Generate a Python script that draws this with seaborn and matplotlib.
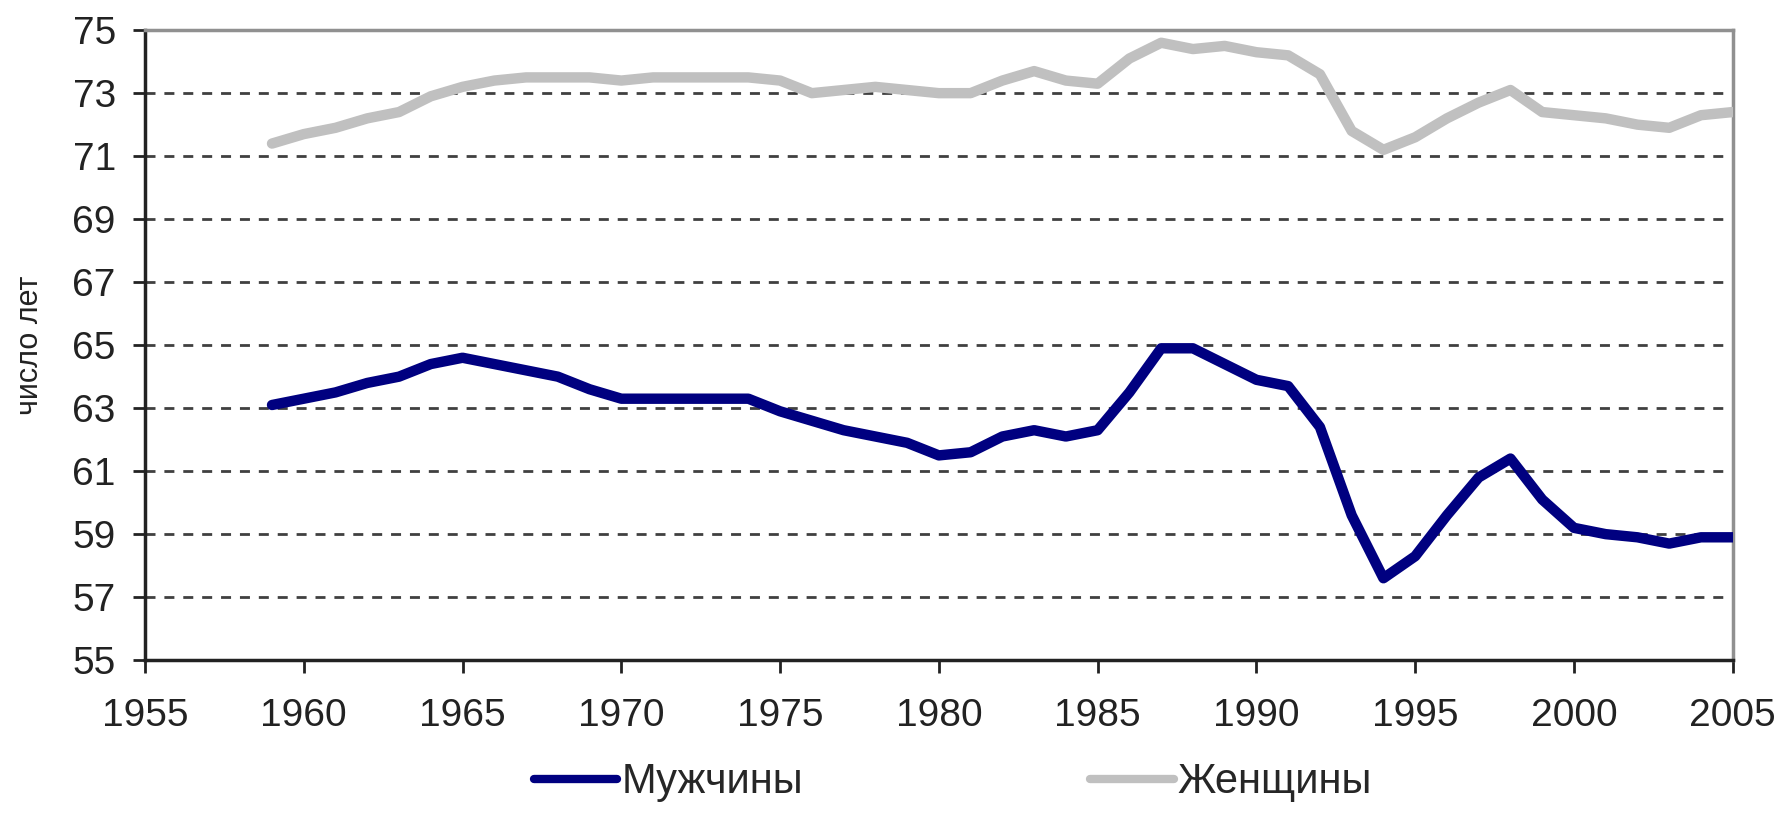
import matplotlib
matplotlib.use("Agg")
import matplotlib.pyplot as plt
import seaborn as sns
import pandas as pd

# life expectancy, Russia, 1959-2005
years = list(range(1959, 2006))
men = [63.1, 63.3, 63.5, 63.8, 64.0, 64.4, 64.6, 64.4, 64.2, 64.0,
       63.6, 63.3, 63.3, 63.3, 63.3, 63.3, 62.9, 62.6, 62.3, 62.1,
       61.9, 61.5, 61.6, 62.1, 62.3, 62.1, 62.3, 63.5, 64.9, 64.9,
       64.4, 63.9, 63.7, 62.4, 59.6, 57.6, 58.3, 59.6, 60.8, 61.4,
       60.1, 59.2, 59.0, 58.9, 58.7, 58.9, 58.9]
women = [71.4, 71.7, 71.9, 72.2, 72.4, 72.9, 73.2, 73.4, 73.5, 73.5,
         73.5, 73.4, 73.5, 73.5, 73.5, 73.5, 73.4, 73.0, 73.1, 73.2,
         73.1, 73.0, 73.0, 73.4, 73.7, 73.4, 73.3, 74.1, 74.6, 74.4,
         74.5, 74.3, 74.2, 73.6, 71.8, 71.2, 71.6, 72.2, 72.7, 73.1,
         72.4, 72.3, 72.2, 72.0, 71.9, 72.3, 72.4]
series_names = ["Мужчины", "Женщины"]
series_colors = ["#000080", "#C0C0C0"]
x_ticks = list(range(1955, 2010, 5))
y_ticks = list(range(55, 77, 2))

df = pd.DataFrame({
    "year": years * 2,
    "value": men + women,
    "sex": [series_names[0]] * len(years) + [series_names[1]] * len(years),
})

sns.set_style("white")
plt.rcParams["font.family"] = ["Liberation Sans", "DejaVu Sans"]

fig = plt.figure(figsize=(17.79, 8.15), dpi=100)
ax = fig.add_axes([0.0815, 0.19, 0.8925, 0.773])

# dashed horizontal grid at inner ticks
ax.hlines(y_ticks[1:-1], x_ticks[0], x_ticks[-1], colors="#404040",
          linewidth=2, linestyles=(0, (3.6, 3.2)), zorder=1)

sns.lineplot(data=df, x="year", y="value", hue="sex", palette=series_colors,
             hue_order=series_names, linewidth=7.5, ax=ax, legend=False,
             zorder=3, solid_joinstyle="round")

ax.set_xlim(x_ticks[0], x_ticks[-1])
ax.set_ylim(y_ticks[0], y_ticks[-1])
ax.set_xticks(x_ticks)
ax.set_yticks(y_ticks)
ax.set_xlabel("")
ax.set_ylabel("число лет", fontsize=22, labelpad=20, color="#222222")
ax.tick_params(axis="y", direction="out", length=9, width=2, pad=12,
               labelsize=28, colors="#222222", left=True)
ax.tick_params(axis="x", direction="out", length=9, width=2, pad=18,
               labelsize=28, colors="#222222", bottom=True)

for side in ["left", "bottom"]:
    ax.spines[side].set_color("#222222")
    ax.spines[side].set_linewidth(2.5)
for side in ["top", "right"]:
    ax.spines[side].set_color("#909090")
    ax.spines[side].set_linewidth(2.5)

handles = [plt.Line2D([], [], color=c, linewidth=6) for c in series_colors]
fig.legend(handles, series_names, loc="center left",
           bbox_to_anchor=(0.30, 0.04), bbox_transform=fig.transFigure,
           ncol=2, frameon=False, fontsize=30, handlelength=2.0,
           handletextpad=0.1, columnspacing=6.9, borderpad=0, borderaxespad=0)

fig.savefig("out.png", dpi=100, facecolor="white")
